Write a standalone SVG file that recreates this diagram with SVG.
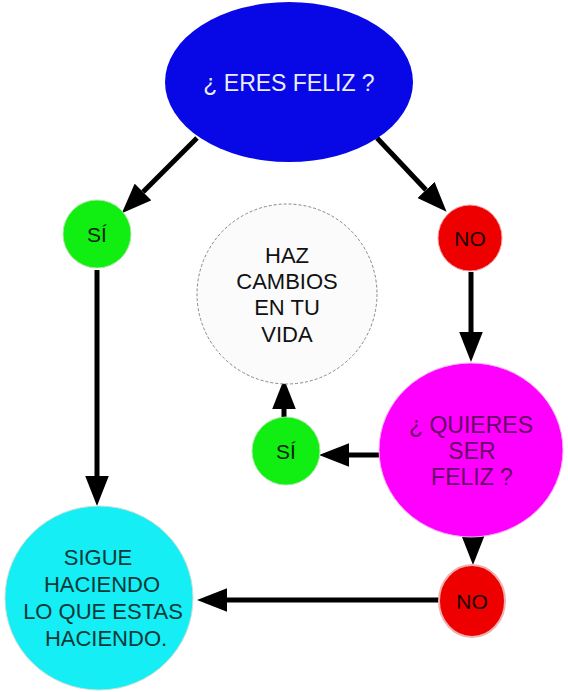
<svg xmlns="http://www.w3.org/2000/svg" width="568" height="692" viewBox="0 0 568 692">
<style>
text{font-family:"Liberation Sans",Arial,sans-serif;font-size:22px;text-anchor:middle}
.c{stroke:#000;stroke-width:5;fill:none}
.sm{font-size:21px}
.lg{font-size:23px}
</style>
<defs>
<marker id="ah" markerUnits="userSpaceOnUse" markerWidth="30" markerHeight="24" refX="0" refY="11" orient="auto" viewBox="0 0 28 22">
<path d="M0,0 L28,11 L0,22 z" fill="#000"/>
</marker>
</defs>
<rect width="568" height="692" fill="#fff"/>
<g id="connectors">
<line class="c" x1="197" y1="138" x2="143" y2="192" marker-end="url(#ah)"/>
<line class="c" x1="377" y1="138" x2="426" y2="190" marker-end="url(#ah)"/>
<line class="c" x1="471" y1="272" x2="471" y2="332" marker-end="url(#ah)"/>
<line class="c" x1="97" y1="270" x2="97" y2="476" marker-end="url(#ah)"/>
<line class="c" x1="473" y1="533" x2="473" y2="535" marker-end="url(#ah)"/>
<line class="c" x1="380" y1="455" x2="349" y2="455" marker-end="url(#ah)"/>
<line class="c" x1="284" y1="418" x2="284" y2="409" marker-end="url(#ah)"/>
<line class="c" x1="439" y1="600" x2="227" y2="600" marker-end="url(#ah)"/>
</g>
<g id="eres-feliz">
<ellipse cx="289" cy="82" rx="124" ry="80" fill="#0808e6"/>
<text class="lg" x="289" y="91" fill="#ececff">¿ ERES FELIZ ?</text>
</g>
<g id="si-1">
<circle cx="97" cy="234" r="34" fill="#11ee11" stroke="#a8e8a0" stroke-width="1"/>
<text class="sm" x="97" y="242" fill="#102010">SÍ</text>
</g>
<g id="no-1">
<ellipse cx="470" cy="238" rx="32" ry="33" fill="#ee0000" stroke="#f0a0a0" stroke-width="1"/>
<text class="sm" x="470" y="246" fill="#200000">NO</text>
</g>
<g id="haz-cambios">
<circle cx="287" cy="294" r="90" fill="#fbfbfb" stroke="#888" stroke-width="1" stroke-dasharray="3,2"/>
<text x="287" y="263" fill="#111">HAZ</text>
<text x="287" y="289" fill="#111">CAMBIOS</text>
<text x="287" y="315" fill="#111">EN TU</text>
<text x="287" y="342" fill="#111">VIDA</text>
</g>
<g id="quieres">
<ellipse cx="471" cy="450" rx="92" ry="87" fill="#ff00ff" stroke="#f8b0f8" stroke-width="1"/>
<text class="lg" x="471" y="433" fill="#660066">¿ QUIERES</text>
<text class="lg" x="472" y="459" fill="#660066">SER</text>
<text class="lg" x="472" y="485" fill="#660066">FELIZ ?</text>
</g>
<g id="si-2">
<circle cx="286" cy="451" r="34" fill="#11ee11" stroke="#a8e8a0" stroke-width="1"/>
<text class="sm" x="286" y="459" fill="#102010">SÍ</text>
</g>
<g id="no-2">
<ellipse cx="472" cy="601" rx="33" ry="36" fill="#ee0000" stroke="#f0b0b0" stroke-width="2"/>
<text class="sm" x="472" y="609" fill="#200000">NO</text>
</g>
<g id="sigue">
<ellipse cx="99" cy="598" rx="94" ry="92" fill="#14eef4" stroke="#c8e0d8" stroke-width="1"/>
<text x="98" y="565" fill="#0a3838">SIGUE</text>
<text x="102" y="592" fill="#0a3838">HACIENDO</text>
<text x="103" y="619" fill="#0a3838">LO QUE ESTAS</text>
<text x="106" y="646" fill="#0a3838">HACIENDO.</text>
</g>
</svg>
